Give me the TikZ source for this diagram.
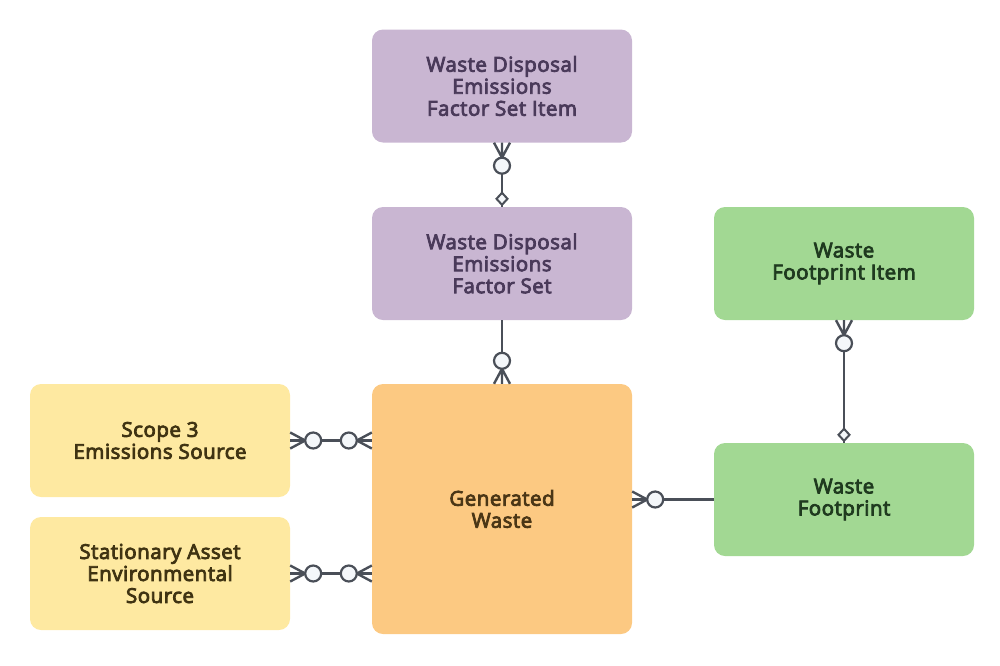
\documentclass[tikz,border=0pt]{standalone}
\usepackage{fontspec}
\newfontfamily\entfont{Open Sans}[FakeBold=4, LetterSpace=2.5]
\usetikzlibrary{calc}
\definecolor{purp}{HTML}{C9B6D2}
\definecolor{purptxt}{HTML}{4A3A5A}
\definecolor{grn}{HTML}{A2D893}
\definecolor{grntxt}{HTML}{1F3A1F}
\definecolor{yel}{HTML}{FEE9A1}
\definecolor{yeltxt}{HTML}{3F3312}
\definecolor{org}{HTML}{FCC982}
\definecolor{orgtxt}{HTML}{4A3616}
\definecolor{ln}{HTML}{4A4F58}
\definecolor{cfill}{HTML}{F4F7FA}
\tikzset{
  ent/.style={rounded corners=11pt, minimum width=260pt, minimum height=113pt, inner sep=0pt,
    align=center, font=\entfont\fontsize{20.5}{22}\selectfont},
  pbox/.style={ent, fill=purp, text=purptxt},
  gbox/.style={ent, fill=grn, text=grntxt},
  ybox/.style={ent, fill=yel, text=yeltxt},
  obox/.style={ent, fill=org, text=orgtxt},
  rel/.style={draw=ln, line width=2.4pt},
  ring/.style={draw=ln, line width=2.2pt, fill=cfill},
}
\begin{document}
\begin{tikzpicture}[x=1pt,y=-1pt]
\useasboundingbox (0,0) rectangle (1000,665);
\node[pbox] (fsi) at (502,86) {Waste Disposal\\Emissions\\Factor Set Item};
\node[pbox] (fs) at (502,263.5) {Waste Disposal\\Emissions\\Factor Set};
\node[gbox] (wfi) at (844,263.5) {Waste\\Footprint Item};
\node[ybox] (s3) at (160,440.5) {Scope 3\\Emissions Source};
\node[ybox] (sa) at (160,573.5) {Stationary Asset\\Environmental\\Source};
\node[obox, minimum height=250pt] (gw) at (502,509) {Generated\\Waste};
\node[gbox] (wf) at (844,499.5) {Waste\\Footprint};

% fsi -- fs
\draw[rel] (fsi.south) -- (fs.north);
\draw[rel] ($(fsi.south)+(0,15)$) -- ($(fsi.south)+(-8,0)$)
  ($(fsi.south)+(0,15)$) -- (fsi.south)
  ($(fsi.south)+(0,15)$) -- ($(fsi.south)+(8,0)$);
\draw[ring] ($(fsi.south)+(0,23)$) circle (8);
\draw[ring, line width=2pt] ($(fs.north)+(0,-2)$) -- ++(-5.5,-6) -- ++(5.5,-6) -- ++(5.5,6) -- cycle;

% fs -- gw
\draw[rel] (fs.south) -- (gw.north);
\draw[rel] ($(gw.north)+(0,-15)$) -- ($(gw.north)+(-8,0)$)
  ($(gw.north)+(0,-15)$) -- (gw.north)
  ($(gw.north)+(0,-15)$) -- ($(gw.north)+(8,0)$);
\draw[ring] ($(gw.north)+(0,-23)$) circle (8);

% s3 -- gw
\coordinate (gwa) at (gw.west |- s3.east);
\draw[rel] (s3.east) -- (gwa);
\draw[rel] ($(s3.east)+(15,0)$) -- ($(s3.east)+(0,-8)$)
  ($(s3.east)+(15,0)$) -- (s3.east)
  ($(s3.east)+(15,0)$) -- ($(s3.east)+(0,8)$);
\draw[rel] ($(gwa)+(-15,0)$) -- ($(gwa)+(0,-8)$)
  ($(gwa)+(-15,0)$) -- (gwa)
  ($(gwa)+(-15,0)$) -- ($(gwa)+(0,8)$);
\draw[ring] ($(s3.east)+(23,0)$) circle (8);
\draw[ring] ($(gwa)+(-23,0)$) circle (8);

% sa -- gw
\coordinate (gwb) at (gw.west |- sa.east);
\draw[rel] (sa.east) -- (gwb);
\draw[rel] ($(sa.east)+(15,0)$) -- ($(sa.east)+(0,-8)$)
  ($(sa.east)+(15,0)$) -- (sa.east)
  ($(sa.east)+(15,0)$) -- ($(sa.east)+(0,8)$);
\draw[rel] ($(gwb)+(-15,0)$) -- ($(gwb)+(0,-8)$)
  ($(gwb)+(-15,0)$) -- (gwb)
  ($(gwb)+(-15,0)$) -- ($(gwb)+(0,8)$);
\draw[ring] ($(sa.east)+(23,0)$) circle (8);
\draw[ring] ($(gwb)+(-23,0)$) circle (8);

% gw -- wf
\coordinate (gwc) at (gw.east |- wf.west);
\draw[rel] (gwc) -- (wf.west);
\draw[rel] ($(gwc)+(15,0)$) -- ($(gwc)+(0,-8)$)
  ($(gwc)+(15,0)$) -- (gwc)
  ($(gwc)+(15,0)$) -- ($(gwc)+(0,8)$);
\draw[ring] ($(gwc)+(23,0)$) circle (8);

% wfi -- wf
\draw[rel] (wfi.south) -- (wf.north);
\draw[rel] ($(wfi.south)+(0,15)$) -- ($(wfi.south)+(-8,0)$)
  ($(wfi.south)+(0,15)$) -- (wfi.south)
  ($(wfi.south)+(0,15)$) -- ($(wfi.south)+(8,0)$);
\draw[ring] ($(wfi.south)+(0,23)$) circle (8);
\draw[ring, line width=2pt] ($(wf.north)+(0,-2)$) -- ++(-5.5,-6) -- ++(5.5,-6) -- ++(5.5,6) -- cycle;
\end{tikzpicture}
\end{document}
